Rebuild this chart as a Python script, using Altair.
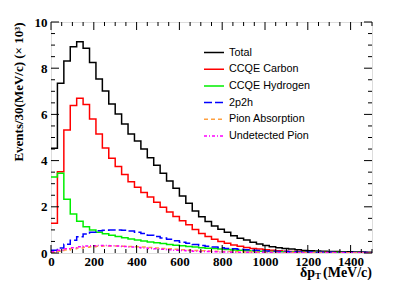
import altair as alt
import pandas as pd

bin_width = 30
n_bins = 50

series_names = ["Total", "CCQE Carbon", "CCQE Hydrogen", "2p2h", "Pion Absorption", "Undetected Pion"]
series_colors = ["#000000", "#ff0000", "#00ee00", "#0000ff", "#ffa040", "#ff00ff"]
series_dashes = [[1, 0], [1, 0], [1, 0], [8, 3], [4, 3], [3, 2, 1, 2]]

total = [4.53, 7.35, 8.31, 8.93, 9.15, 8.86, 8.25, 7.53, 7.01, 6.45, 6.02, 5.58, 5.15, 4.85, 4.5,
         4.12, 3.8, 3.45, 3.12, 2.8, 2.47, 2.15, 1.82, 1.57, 1.36, 1.17, 1.03, 0.9, 0.75, 0.64,
         0.56, 0.46, 0.39, 0.33, 0.27, 0.23, 0.2, 0.17, 0.14, 0.11, 0.1, 0.09, 0.08, 0.07, 0.06,
         0.05, 0.05, 0.04, 0.04, 0.03]
ccqe_carbon = [1.29, 3.52, 5.32, 6.38, 6.7, 6.43, 5.8, 5.15, 4.55, 4.1, 3.74, 3.4, 3.08, 2.85, 2.62,
               2.42, 2.2, 1.98, 1.78, 1.58, 1.4, 1.22, 1.02, 0.84, 0.71, 0.6, 0.5, 0.42, 0.35, 0.29,
               0.24, 0.2, 0.17, 0.14, 0.12, 0.1, 0.08, 0.07, 0.06, 0.05, 0.04, 0.035, 0.03, 0.025, 0.02,
               0.02, 0.015, 0.015, 0.01, 0.01]
ccqe_hydrogen = [3.29, 3.45, 2.33, 1.69, 1.37, 1.14, 1.0, 0.9, 0.83, 0.77, 0.71, 0.66, 0.61, 0.56, 0.52,
                 0.48, 0.44, 0.41, 0.37, 0.34, 0.31, 0.28, 0.26, 0.23, 0.21, 0.19, 0.17, 0.15, 0.13, 0.12,
                 0.1, 0.09, 0.08, 0.07, 0.06, 0.05, 0.05, 0.04, 0.04, 0.03, 0.03, 0.03, 0.02, 0.02, 0.02,
                 0.02, 0.01, 0.01, 0.01, 0.01]
two_p_two_h = [0.12, 0.22, 0.38, 0.55, 0.7, 0.82, 0.9, 0.96, 0.99, 1.0, 1.0, 0.98, 0.95, 0.9, 0.84,
               0.77, 0.71, 0.65, 0.59, 0.53, 0.47, 0.42, 0.37, 0.33, 0.29, 0.26, 0.23, 0.2, 0.18, 0.16,
               0.14, 0.12, 0.11, 0.09, 0.08, 0.07, 0.06, 0.05, 0.05, 0.04, 0.04, 0.03, 0.03, 0.03, 0.02,
               0.02, 0.02, 0.02, 0.02, 0.02]
pion_absorption = [0.03, 0.08, 0.13, 0.18, 0.22, 0.25, 0.27, 0.29, 0.3, 0.3, 0.3, 0.29, 0.28, 0.27, 0.26,
                   0.24, 0.22, 0.2, 0.18, 0.16, 0.14, 0.12, 0.11, 0.1, 0.09, 0.08, 0.07, 0.06, 0.055, 0.05,
                   0.045, 0.04, 0.035, 0.03, 0.03, 0.025, 0.02, 0.02, 0.02, 0.015, 0.015, 0.01, 0.01, 0.01, 0.01,
                   0.01, 0.01, 0.01, 0.01, 0.01]
undetected_pion = [0.05, 0.12, 0.18, 0.23, 0.27, 0.3, 0.31, 0.32, 0.32, 0.31, 0.3, 0.28, 0.26, 0.24, 0.22,
                   0.2, 0.18, 0.16, 0.14, 0.12, 0.11, 0.1, 0.08, 0.07, 0.06, 0.05, 0.045, 0.04, 0.035, 0.03,
                   0.03, 0.025, 0.02, 0.02, 0.02, 0.015, 0.015, 0.01, 0.01, 0.01, 0.01, 0.01, 0.01, 0.01, 0.01,
                   0.01, 0.01, 0.01, 0.01, 0.01]

x_major_ticks = [0, 200, 400, 600, 800, 1000, 1200, 1400]
x_minor_ticks = [v for v in range(0, 1501, 50) if v % 200 != 0]
y_major_ticks = [0, 2, 4, 6, 8, 10]
y_minor_ticks = [v / 2 for v in range(0, 21) if v % 4 != 0]

W, H = 321, 231

all_series = [total, ccqe_carbon, ccqe_hydrogen, two_p_two_h, pion_absorption, undetected_pion]
rows = []
for name, vals in zip(series_names, all_series):
    for i, v in enumerate(vals):
        rows.append({"series": name, "x": i * bin_width, "y": v})
    rows.append({"series": name, "x": n_bins * bin_width, "y": vals[-1]})
df = pd.DataFrame(rows)

xs = alt.Scale(domain=[0, 1500], nice=False, zero=False)
ys = alt.Scale(domain=[0, 10], nice=False)

hist = alt.Chart(df).mark_line(interpolate="step-after", strokeWidth=1.5, clip=True).encode(
    x=alt.X("x:Q", scale=xs,
            axis=alt.Axis(values=x_major_ticks, format="d", ticks=False, domain=False, grid=False,
                          labelFont="Liberation Serif", labelFontWeight="bold", labelFontSize=13,
                          labelPadding=2, labelColor="black", title=None, labelFlush=False)),
    y=alt.Y("y:Q", scale=ys,
            axis=alt.Axis(values=y_major_ticks, ticks=False, domain=False, grid=False,
                          labelFont="Liberation Serif", labelFontWeight="bold", labelFontSize=13,
                          labelPadding=4, labelColor="black", labelFlush=False,
                          title="Events/30(MeV/c) (× 10³)", titleFont="Liberation Serif",
                          titleFontWeight="bold", titleFontSize=13, titleColor="black",
                          titleAngle=270, titleAlign="right", titleBaseline="middle",
                          titleX=-33, titleY=0)),
    color=alt.Color("series:N", scale=alt.Scale(domain=series_names, range=series_colors), legend=None),
    strokeDash=alt.StrokeDash("series:N", scale=alt.Scale(domain=series_names, range=series_dashes), legend=None),
    order=alt.Order("x:Q"),
)

def tick_layer(values, axis, length, side):
    d = pd.DataFrame({"v": values})
    if axis == "x":
        if side == "bottom":
            enc = dict(x=alt.X("v:Q", scale=xs), y=alt.value(H), y2=alt.value(H - length))
        else:
            enc = dict(x=alt.X("v:Q", scale=xs), y=alt.value(0), y2=alt.value(length))
    else:
        if side == "left":
            enc = dict(y=alt.Y("v:Q", scale=ys), x=alt.value(0), x2=alt.value(length))
        else:
            enc = dict(y=alt.Y("v:Q", scale=ys), x=alt.value(W), x2=alt.value(W - length))
    return alt.Chart(d).mark_rule(color="black", strokeWidth=1).encode(**enc)

ticks = [
    tick_layer(x_major_ticks, "x", 8, "bottom"), tick_layer(x_minor_ticks, "x", 4, "bottom"),
    tick_layer(x_major_ticks, "x", 8, "top"), tick_layer(x_minor_ticks, "x", 4, "top"),
    tick_layer(y_major_ticks, "y", 8, "left"), tick_layer(y_minor_ticks, "y", 4, "left"),
    tick_layer(y_major_ticks, "y", 8, "right"), tick_layer(y_minor_ticks, "y", 4, "right"),
]

# legend drawn by hand
legend_layers = []
leg_x0, leg_y0, leg_dy = 153, 30.5, 16.7
for i, (name, col, dash) in enumerate(zip(series_names, series_colors, series_dashes)):
    yy = leg_y0 + i * leg_dy
    one = pd.DataFrame({"label": [name]})
    legend_layers.append(alt.Chart(one).mark_rule(color=col, strokeWidth=1.5, strokeDash=dash).encode(
        x=alt.value(leg_x0), x2=alt.value(leg_x0 + 20), y=alt.value(yy)))
    legend_layers.append(alt.Chart(one).mark_text(align="left", baseline="middle", font="Liberation Sans",
                                                  fontSize=10.8, color="black").encode(
        x=alt.value(leg_x0 + 25), y=alt.value(yy), text="label:N"))

# x title with subscript
xt1 = alt.Chart(pd.DataFrame({"t": ["(MeV/c)"]})).mark_text(
    align="right", baseline="alphabetic", font="Liberation Serif", fontWeight="bold", fontSize=14,
    color="black").encode(x=alt.value(W), y=alt.value(H + 24), text="t:N")
xt2 = alt.Chart(pd.DataFrame({"t": ["T"]})).mark_text(
    align="right", baseline="alphabetic", font="Liberation Serif", fontWeight="bold", fontSize=9,
    color="black").encode(x=alt.value(W - 51), y=alt.value(H + 26), text="t:N")
xt3 = alt.Chart(pd.DataFrame({"t": ["δp"]})).mark_text(
    align="right", baseline="alphabetic", font="Liberation Serif", fontWeight="bold", fontSize=14,
    color="black").encode(x=alt.value(W - 57), y=alt.value(H + 24), text="t:N")

chart = alt.layer(hist, *ticks, *legend_layers, xt1, xt2, xt3).properties(
    width=W, height=H,
    autosize=alt.AutoSizeParams(type="none"),
    padding={"left": 43, "top": 14, "right": 15, "bottom": 27},
).configure_view(stroke="black", strokeWidth=1).configure(background="white")

chart.save("out.html", embed_options={"renderer": "svg", "actions": False})
